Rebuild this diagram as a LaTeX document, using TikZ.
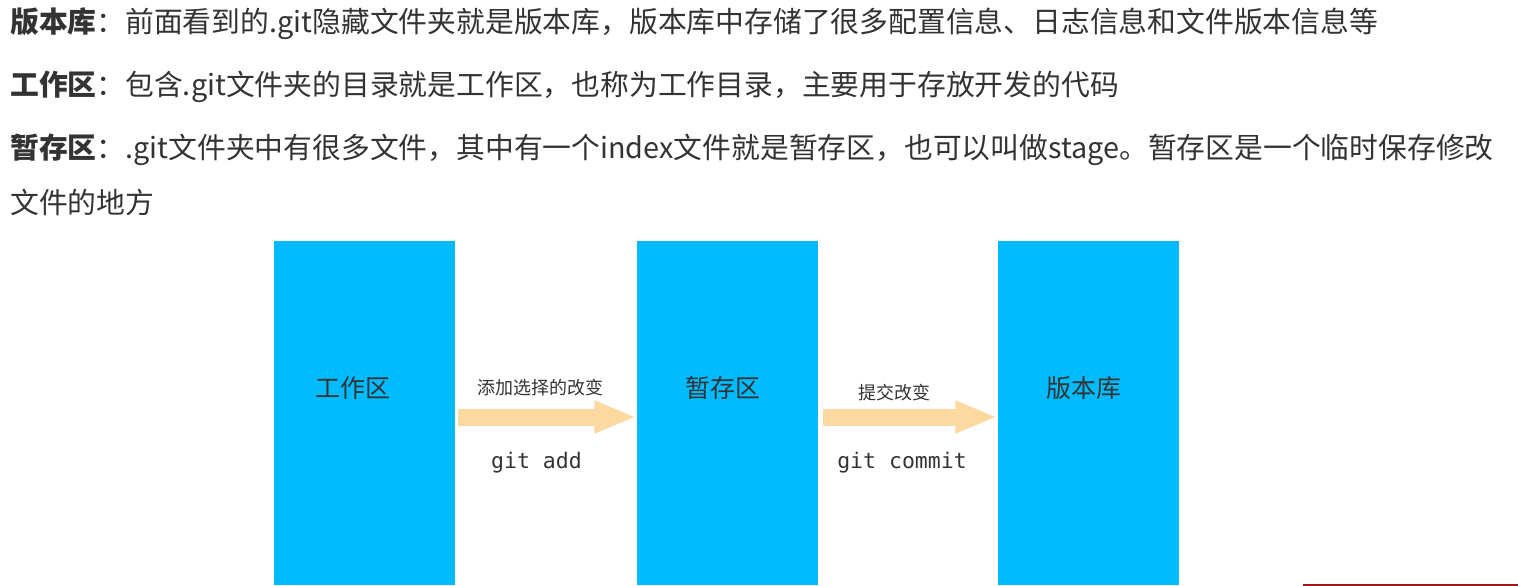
\documentclass[tikz,border=0pt]{standalone}
\usepackage{fontspec}
\setmainfont{Noto Sans CJK SC}
\newfontfamily\codefont{DejaVu Sans Mono}
\usetikzlibrary{arrows.meta, positioning}

\definecolor{areablue}{RGB}{0,187,255}
\definecolor{flowpeach}{RGB}{252,217,160}
\definecolor{textgray}{RGB}{51,51,51}
\definecolor{barred}{RGB}{155,27,27}

\begin{document}
\begin{tikzpicture}[x=1pt, y=-1pt,
            area/.style={fill=areablue, draw=none, minimum width=181pt, minimum height=344pt, inner sep=0pt},
            arealabel/.style={font=\fontsize{25}{25}\selectfont, text=textgray, inner sep=0pt},
            flow/.style={draw=flowpeach, line width=17pt, -{Triangle[length=42pt, width=30pt]}},
            flowlabel/.style={font=\fontsize{18}{18}\selectfont, text=textgray, inner sep=0pt},
            cmd/.style={font=\codefont\fontsize{21.5}{21.5}\selectfont, text=textgray, inner sep=0pt},
            para/.style={anchor=west, font=\fontsize{28.8}{28.8}\selectfont, text=textgray, inner sep=0pt}
        ]
        \useasboundingbox (0,0) rectangle (1518,586);

        % explanation text
        \node[para] (P1) at (10, 24) {\textbf{版本库}：前面看到的.git隐藏文件夹就是版本库，版本库中存储了很多配置信息、日志信息和文件版本信息等};
        \node[para] (P2) at (10, 87) {\textbf{工作区}：包含.git文件夹的目录就是工作区，也称为工作目录，主要用于存放开发的代码};
        \node[para] (P3) at (10, 150) {\textbf{暂存区}：.git文件夹中有很多文件，其中有一个index文件就是暂存区，也可以叫做stage。暂存区是一个临时保存修改};
        \node[para] (P4) at (10, 202) {文件的地方};

        % the three areas
        \node[area] (work) at (364.5, 413) {};
        \node[area] (stage) at (727, 413) {};
        \node[area] (repo) at (1088, 413) {};

        \node[arealabel] (workL) at ([xshift=-12pt, yshift=25pt]work.center) {工作区};
        \node[arealabel] (stageL) at ([xshift=-4pt, yshift=25pt]stage.center) {暂存区};
        \node[arealabel] (repoL) at ([xshift=-4pt, yshift=25pt]repo.center) {版本库};

        % flows between areas
        \draw[flow] ([xshift=3pt, yshift=-4pt]work.east) -- ([yshift=-4pt]stage.west);
        \draw[flow] ([xshift=5pt, yshift=-4pt]stage.east) -- ([yshift=-4pt]repo.west);

        \node[flowlabel] (addL) at (540.5, 388) {添加选择的改变};
        \node[cmd] (addC) at (536.5, 463) {git add};
        \node[flowlabel] (commitL) at (894.5, 393) {提交改变};
        \node[cmd] (commitC) at (902, 463) {git commit};

        % cut-off bar in the corner
        \fill[barred] (1303, 583.5) rectangle (1518, 586);
\end{tikzpicture}
\end{document}
